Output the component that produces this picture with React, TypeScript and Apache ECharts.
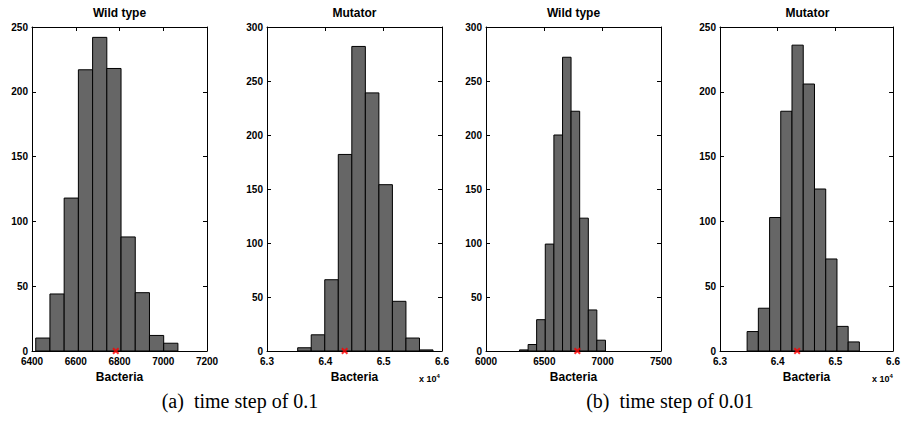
import React, { useEffect, useRef } from "react";
import * as echarts from "echarts";

// Histogram bin edges and counts
const wt1Edges = [6417, 6482, 6547, 6612, 6677, 6742, 6807, 6872, 6937, 7002, 7067];
const wt1Counts = [10, 44, 118, 217, 242, 218, 88, 45, 12, 6];
const mu1Edges = [63526, 63758, 63990, 64222, 64454, 64686, 64918, 65150, 65382, 65614, 65846];
const mu1Counts = [3, 15, 66, 182, 282, 239, 154, 46, 12, 1];
const wt2Edges = [6287, 6361, 6434, 6508, 6582, 6656, 6729, 6803, 6877, 6950, 7024];
const wt2Counts = [1, 6, 29, 99, 200, 272, 222, 123, 38, 10];
const mu2Edges = [63470, 63665, 63860, 64053, 64248, 64443, 64638, 64833, 65028, 65222, 65416];
const mu2Counts = [15, 33, 103, 185, 236, 206, 125, 71, 19, 7];

const markers = [6783, 64331, 6783, 64337];
const titles = ["Wild type", "Mutator", "Wild type", "Mutator"];
const xMins = [6400, 63000, 6000, 63000];
const xMaxs = [7200, 66000, 7500, 66000];
const xIntervals = [200, 1000, 500, 1000];
const yMaxs = [250, 300, 300, 250];
const xLabel = "Bacteria";
const captions = ["(a)  time step of 0.1", "(b)  time step of 0.01"];

const panels = [
  { edges: wt1Edges, counts: wt1Counts, scaled: false },
  { edges: mu1Edges, counts: mu1Counts, scaled: true },
  { edges: wt2Edges, counts: wt2Counts, scaled: false },
  { edges: mu2Edges, counts: mu2Counts, scaled: true },
];

const gridLefts = [32, 267, 486, 720];
const gridWidth = 175;
const gridTop = 27;
const gridHeight = 324;
const SANS = "Liberation Sans";
const SERIF = "Liberation Serif";

export default function App() {
  const ref = useRef<HTMLDivElement>(null);
  useEffect(() => {
    document.body.style.margin = "0";
    if (!ref.current) return;
    const chart = echarts.init(ref.current, undefined, { renderer: "svg" });

    const grids: any[] = [];
    const xAxes: any[] = [];
    const yAxes: any[] = [];
    const series: any[] = [];
    const graphics: any[] = [];

    panels.forEach((p, i) => {
      grids.push({ left: gridLefts[i], top: gridTop, width: gridWidth, height: gridHeight });
      const lineStyle = { color: "#000", width: 1 };
      const axisLine = { show: true, onZero: false, lineStyle };
      const tick = { show: true, inside: true, length: 4, lineStyle };
      const labelFmt = p.scaled ? (v: number) => (v / 10000).toFixed(1) : (v: number) => String(v);
      xAxes.push({
        type: "value", gridIndex: i, position: "bottom",
        min: xMins[i], max: xMaxs[i], interval: xIntervals[i],
        axisLine, axisTick: tick, splitLine: { show: false },
        axisLabel: { show: true, color: "#000", fontFamily: SANS, fontWeight: "bold", fontSize: 10, margin: 5, formatter: labelFmt },
        name: xLabel, nameLocation: "middle", nameGap: 15,
        nameTextStyle: { color: "#000", fontFamily: SANS, fontWeight: "bold", fontSize: 12 },
      });
      xAxes.push({
        type: "value", gridIndex: i, position: "top",
        min: xMins[i], max: xMaxs[i], interval: xIntervals[i],
        axisLine, axisTick: tick, splitLine: { show: false },
        axisLabel: { show: false },
      });
      yAxes.push({
        type: "value", gridIndex: i, position: "left",
        min: 0, max: yMaxs[i], interval: 50,
        axisLine, axisTick: tick, splitLine: { show: false },
        axisLabel: { show: true, color: "#000", fontFamily: SANS, fontWeight: "bold", fontSize: 10, margin: 4 },
      });
      yAxes.push({
        type: "value", gridIndex: i, position: "right",
        min: 0, max: yMaxs[i], interval: 50,
        axisLine, axisTick: tick, splitLine: { show: false },
        axisLabel: { show: false },
      });

      const data = p.counts.map((c, k) => [p.edges[k], p.edges[k + 1], c]);
      series.push({
        type: "custom",
        xAxisIndex: i * 2,
        yAxisIndex: i * 2,
        data,
        encode: { x: [0, 1], y: 2 },
        renderItem: (_params: any, api: any) => {
          const s = api.coord([api.value(0), 0]);
          const e = api.coord([api.value(1), api.value(2)]);
          return {
            type: "rect",
            shape: { x: s[0], y: e[1], width: e[0] - s[0], height: s[1] - e[1] },
            style: { fill: "#666666", stroke: "#000", lineWidth: 1 },
          };
        },
      });
      series.push({
        type: "scatter",
        xAxisIndex: i * 2,
        yAxisIndex: i * 2,
        data: [[markers[i], 0]],
        symbol: "path://M0,2L2,0L5,3L8,0L10,2L7,5L10,8L8,10L5,7L2,10L0,8L3,5Z",
        symbolSize: 7,
        itemStyle: { color: "#ff0000" },
        clip: false,
        z: 5,
      });

      graphics.push({
        type: "text",
        x: gridLefts[i] + gridWidth / 2,
        y: 13,
        style: {
          text: titles[i], fill: "#000", font: `bold 12px "${SANS}"`,
          textAlign: "center", textVerticalAlign: "middle",
        },
      });
      if (p.scaled) {
        graphics.push({
          type: "text",
          x: gridLefts[i] + gridWidth - 23,
          y: 373,
          style: {
            text: "x 10{s|4}",
            fill: "#000",
            font: `bold 9px "${SANS}"`,
            rich: { s: { fontSize: 6, fontWeight: "bold", fontFamily: SANS, verticalAlign: "top", padding: [0, 0, 6, 0] } },
          },
        });
      }
    });

    graphics.push({
      type: "text", x: 240, y: 401,
      style: { text: captions[0], fill: "#000", font: `20px "${SERIF}"`, textAlign: "center", textVerticalAlign: "middle" },
    });
    graphics.push({
      type: "text", x: 670, y: 401,
      style: { text: captions[1], fill: "#000", font: `20px "${SERIF}"`, textAlign: "center", textVerticalAlign: "middle" },
    });

    chart.setOption({
      animation: false,
      backgroundColor: "#fff",
      grid: grids,
      xAxis: xAxes,
      yAxis: yAxes,
      series,
      graphic: graphics,
    });
    return () => chart.dispose();
  }, []);
  return <div ref={ref} style={{ width: 903, height: 431 }} />;
}
